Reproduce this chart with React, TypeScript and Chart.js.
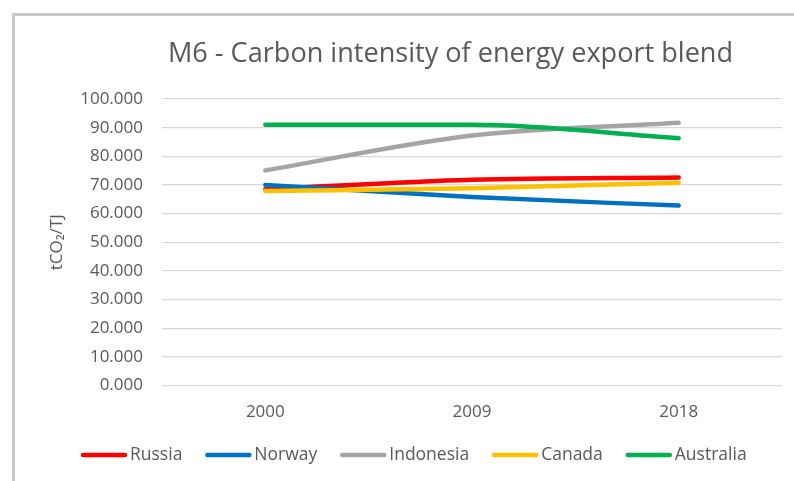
import React, { useEffect, useRef } from "react";
import { Chart, registerables } from "chart.js";

Chart.register(...registerables);

const years = ["2000", "2009", "2018"];
const russia = [68.5, 71.8, 72.6];
const norway = [70.0, 65.8, 62.8];
const indonesia = [75.1, 87.3, 91.7];
const canada = [67.9, 68.9, 70.8];
const australia = [91.0, 91.0, 86.3];

const seriesNames = ["Russia", "Norway", "Indonesia", "Canada", "Australia"];
const seriesColors = ["#FF0000", "#0070C0", "#A5A5A5", "#FFC000", "#00B050"];
const seriesValues = [russia, norway, indonesia, canada, australia];

const titleText = "M6 - Carbon intensity of energy export blend";
const yTitle = "tCO\u2082/TJ";
const FONT = "'Open Sans', 'Noto Sans', sans-serif";
const TEXT = "#595959";

const decorPlugin = {
  id: "decor",
  beforeDraw(chart: any) {
    const ctx = chart.ctx;
    ctx.save();
    ctx.fillStyle = "#ffffff";
    ctx.fillRect(0, 0, chart.width, chart.height);
    ctx.fillStyle = "#c9c9c9";
    ctx.fillRect(12, 13, chart.width, 3);
    ctx.fillRect(12, 13, 3, chart.height);
    ctx.restore();
  },
  afterDraw(chart: any) {
    const ctx = chart.ctx;
    ctx.save();
    // title
    ctx.fillStyle = TEXT;
    ctx.font = `27.1px ${FONT}`;
    ctx.textAlign = "center";
    ctx.textBaseline = "alphabetic";
    ctx.fillText(titleText, 450.5, 61.7);
    // legend
    ctx.font = `17.5px ${FONT}`;
    ctx.textAlign = "left";
    ctx.textBaseline = "middle";
    const y = 455;
    let x = 81;
    chart.data.datasets.forEach((ds: any) => {
      ctx.strokeStyle = ds.borderColor;
      ctx.lineWidth = 4.5;
      ctx.lineCap = "round";
      ctx.beginPath();
      ctx.moveTo(x + 2, y);
      ctx.lineTo(x + 44, y);
      ctx.stroke();
      x += 49;
      ctx.fillStyle = TEXT;
      ctx.fillText(ds.label, x, y);
      x += ctx.measureText(ds.label).width + 23;
    });
    ctx.restore();
  },
};

export default function App() {
  const ref = useRef<HTMLCanvasElement | null>(null);
  useEffect(() => {
    if (!ref.current) return;
    const datasets = seriesNames.map((name, i) => ({
      label: name,
      data: seriesValues[i],
      borderColor: seriesColors[i],
      backgroundColor: seriesColors[i],
      borderWidth: 4.5,
      borderCapStyle: "round" as const,
      borderJoinStyle: "round" as const,
      pointRadius: 0,
      pointHoverRadius: 0,
      cubicInterpolationMode: "monotone" as const,
      fill: false,
      order: seriesNames.length - i,
    }));
    const chart = new Chart(ref.current, {
      type: "line",
      data: { labels: years, datasets },
      options: {
        animation: false,
        responsive: true,
        maintainAspectRatio: false,
        layout: { padding: { left: 0, right: 12, top: 99, bottom: 43 } },
        plugins: {
          legend: { display: false },
          title: { display: false },
          tooltip: { enabled: false },
        },
        scales: {
          x: {
            type: "category",
            offset: true,
            grid: { display: false, drawOnChartArea: false, drawTicks: false, color: "rgba(0,0,0,0)" },
            border: { display: false },
            ticks: {
              color: TEXT,
              font: { family: FONT, size: 17 },
              padding: 16,
            },
          },
          y: {
            min: 0,
            max: 100,
            afterFit: (s: any) => {
              s.width = 162;
            },
            grid: { color: "#d9d9d9", lineWidth: 1.3, drawTicks: false },
            border: { display: false },
            ticks: {
              stepSize: 10,
              color: TEXT,
              font: { family: FONT, size: 17 },
              padding: 19,
              callback: (v: any) => Number(v).toFixed(3),
            },
            title: {
              display: true,
              text: yTitle,
              color: TEXT,
              font: { family: FONT, size: 17 },
              padding: { top: 47, bottom: 0 },
            },
          },
        },
      },
      plugins: [decorPlugin],
    });
    return () => chart.destroy();
  }, []);
  return (
    <div style={{ position: "absolute", left: 0, top: 0, width: 794, height: 481 }}>
      <canvas ref={ref} />
    </div>
  );
}
